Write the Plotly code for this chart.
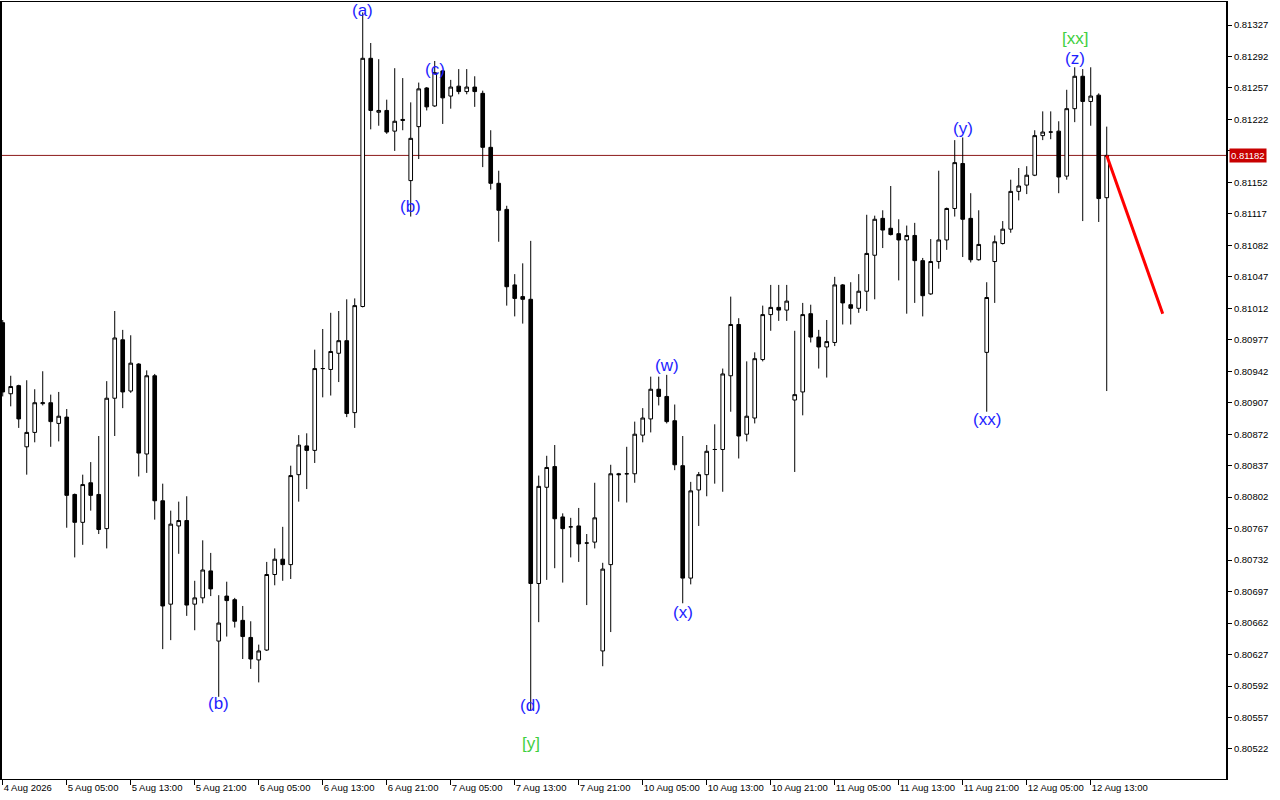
import plotly.graph_objects as go

# ---- hourly candles (bar index 0 = 4 Aug 2026 21:00) ----
open_ = [0.80996,0.80917,0.80926,0.80858,0.80874,0.80906,0.80907,0.80884,0.80891,0.80805,
         0.80774,0.80818,0.80805,0.80767,0.80912,0.80977,0.80920,0.80950,0.80850,0.80937,
         0.80798,0.80683,0.80770,0.80776,0.80683,0.80690,0.80720,0.80642,0.80692,0.80688,
         0.80665,0.80646,0.80621,0.80632,0.80716,0.80733,0.80727,0.80827,0.80859,0.80854,
         0.80945,0.80944,0.80962,0.80976,0.80896,0.81014,0.81290,0.81230,0.81232,0.81209,
         0.81222,0.81154,0.81214,0.81257,0.81237,0.81276,0.81248,0.81259,0.81253,0.81258,
         0.81251,0.81191,0.81151,0.81122,0.81038,0.81025,0.81022,0.80706,0.80813,0.80836,
         0.80780,0.80769,0.80770,0.80751,0.80752,0.80631,0.80727,0.80828,0.80828,0.80828,
         0.80871,0.80889,0.80922,0.80914,0.80887,0.80837,0.80712,0.80810,0.80827,0.80855,
         0.80855,0.80937,0.80994,0.80872,0.80890,0.80955,0.81005,0.81013,0.81010,0.80910,
         0.80919,0.81006,0.80980,0.80969,0.80974,0.81038,0.81016,0.81012,0.81031,0.81071,
         0.81112,0.81101,0.81095,0.81088,0.81093,0.81065,0.81028,0.81064,0.81088,0.81123,
         0.81173,0.81112,0.81066,0.80963,0.81064,0.81084,0.81100,0.81142,0.81149,0.81160,
         0.81204,0.81208,0.81209,0.81159,0.81234,0.81270,0.81242,0.81249,0.81135]
high = [0.80999,0.80937,0.80927,0.80932,0.80922,0.80942,0.80916,0.80919,0.80900,0.80806,
        0.80827,0.80841,0.80870,0.80931,0.81009,0.80988,0.80982,0.80951,0.80943,0.80939,
        0.80817,0.80787,0.80797,0.80803,0.80709,0.80754,0.80740,0.80693,0.80708,0.80690,
        0.80681,0.80664,0.80638,0.80730,0.80745,0.80769,0.80837,0.80871,0.80873,0.80966,
        0.80989,0.81007,0.81009,0.81022,0.81023,0.81341,0.81307,0.81289,0.81244,0.81279,
        0.81268,0.81241,0.81263,0.81258,0.81287,0.81277,0.81266,0.81278,0.81278,0.81270,
        0.81254,0.81210,0.81165,0.81126,0.81050,0.81062,0.81087,0.80826,0.80848,0.80860,
        0.80784,0.80779,0.80790,0.80761,0.80818,0.80729,0.80838,0.80829,0.80858,0.80886,
        0.80901,0.80936,0.80936,0.80938,0.80905,0.80870,0.80819,0.80830,0.80860,0.80883,
        0.80945,0.81025,0.81001,0.80953,0.80963,0.81015,0.81038,0.81038,0.81038,0.80987,
        0.81018,0.81016,0.80988,0.80999,0.81047,0.81039,0.81041,0.81050,0.81116,0.81115,
        0.81121,0.81148,0.81111,0.81104,0.81107,0.81068,0.81089,0.81165,0.81124,0.81199,
        0.81202,0.81140,0.81121,0.81041,0.81093,0.81109,0.81155,0.81168,0.81170,0.81210,
        0.81231,0.81231,0.81220,0.81255,0.81280,0.81278,0.81280,0.81251,0.81214]
low = [0.80914,0.80903,0.80879,0.80827,0.80863,0.80904,0.80858,0.80864,0.80768,0.80735,
       0.80749,0.80787,0.80761,0.80745,0.80870,0.80901,0.80918,0.80825,0.80829,0.80777,
       0.80633,0.80643,0.80739,0.80670,0.80654,0.80684,0.80692,0.80580,0.80647,0.80657,
       0.80622,0.80611,0.80596,0.80631,0.80704,0.80709,0.80711,0.80797,0.80811,0.80840,
       0.80913,0.80915,0.80930,0.80891,0.80879,0.81013,0.81211,0.81215,0.81206,0.81187,
       0.81210,0.81114,0.81178,0.81232,0.81236,0.81217,0.81234,0.81250,0.81250,0.81236,
       0.81169,0.81144,0.81086,0.81015,0.81003,0.80995,0.80565,0.80663,0.80710,0.80723,
       0.80707,0.80735,0.80730,0.80682,0.80745,0.80614,0.80652,0.80797,0.80796,0.80818,
       0.80863,0.80874,0.80904,0.80884,0.80832,0.80684,0.80705,0.80770,0.80803,0.80817,
       0.80808,0.80897,0.80845,0.80864,0.80884,0.80953,0.80987,0.80998,0.80998,0.80830,
       0.80893,0.80974,0.80945,0.80935,0.80970,0.80994,0.80994,0.81007,0.81009,0.81022,
       0.81079,0.81093,0.81043,0.81006,0.81018,0.81003,0.81027,0.81056,0.81077,0.81114,
       0.81069,0.81063,0.81065,0.80897,0.81018,0.81083,0.81096,0.81132,0.81139,0.81159,
       0.81199,0.81200,0.81140,0.81155,0.81219,0.81109,0.81215,0.81108,0.80920]
close = [0.80919,0.80925,0.80889,0.80874,0.80907,0.80907,0.80886,0.80892,0.80804,0.80774,
         0.80816,0.80804,0.80766,0.80912,0.80979,0.80919,0.80951,0.80851,0.80937,0.80798,
         0.80681,0.80772,0.80776,0.80682,0.80690,0.80721,0.80700,0.80662,0.80687,0.80664,
         0.80647,0.80622,0.80631,0.80716,0.80733,0.80727,0.80826,0.80860,0.80854,0.80945,
         0.80945,0.80964,0.80976,0.80895,0.81015,0.81290,0.81232,0.81232,0.81208,0.81220,
         0.81221,0.81201,0.81256,0.81236,0.81274,0.81246,0.81258,0.81253,0.81258,0.81253,
         0.81191,0.81151,0.81121,0.81036,0.81023,0.81022,0.80706,0.80814,0.80835,0.80778,
         0.80767,0.80769,0.80750,0.80751,0.80779,0.80722,0.80828,0.80827,0.80828,0.80872,
         0.80890,0.80922,0.80914,0.80886,0.80838,0.80712,0.80809,0.80827,0.80853,0.80855,
         0.80939,0.80994,0.80870,0.80892,0.80956,0.81005,0.81013,0.81010,0.81020,0.80916,
         0.81005,0.80980,0.80969,0.80975,0.81038,0.81018,0.81012,0.81031,0.81073,0.81111,
         0.81099,0.81094,0.81088,0.81093,0.81065,0.81026,0.81064,0.81088,0.81123,0.81174,
         0.81111,0.81066,0.81083,0.81024,0.81086,0.81100,0.81142,0.81148,0.81160,0.81204,
         0.81208,0.81208,0.81158,0.81234,0.81270,0.81242,0.81248,0.81134,0.81182]

# ---- time axis labels (every 8 bars) ----
time_labels = ["4 Aug 2026", "5 Aug 05:00", "5 Aug 13:00", "5 Aug 21:00", "6 Aug 05:00",
               "6 Aug 13:00", "6 Aug 21:00", "7 Aug 05:00", "7 Aug 13:00", "7 Aug 21:00",
               "10 Aug 05:00", "10 Aug 13:00", "10 Aug 21:00", "11 Aug 05:00", "11 Aug 13:00",
               "11 Aug 21:00", "12 Aug 05:00", "12 Aug 13:00"]
time_label_bars = [0, 8, 16, 24, 32, 40, 48, 56, 64, 72, 80, 88, 96, 104, 112, 120, 128, 136]

# ---- price axis ticks ----
price_ticks = [0.80522, 0.80557, 0.80592, 0.80627, 0.80662, 0.80697, 0.80732, 0.80767,
               0.80802, 0.80837, 0.80872, 0.80907, 0.80942, 0.80977, 0.81012, 0.81047,
               0.81082, 0.81117, 0.81152, 0.81187, 0.81222, 0.81257, 0.81292, 0.81327]
current_price = 0.81182

# ---- wave labels (anchored at a bar's high or low) ----
wave_text = ["(a)", "(b)", "(c)", "(b)", "(d)", "[y]", "(w)", "(x)", "(y)", "(xx)", "[xx]", "(z)"]
wave_bar = [45, 51, 54, 27, 66, 66, 83, 85, 120, 123, 134, 134]
wave_anchor = ["high", "low", "high", "low", "low", "low", "high", "low", "high", "low", "high", "high"]
wave_kind = ["minor"] * 5 + ["major"] + ["minor"] * 4 + ["major", "minor"]
wave_yshift = [2, 10, -9, -7, 5, -33, 9, -9, 9, -8, 29, 9]

# ---- projected move ----
proj_bars = [138, 145]
proj_prices = [0.81182, 0.81006]

n = len(open_)
xs = list(range(n))

fig = go.Figure()
fig.add_trace(go.Candlestick(
    x=xs, open=open_, high=high, low=low, close=close,
    increasing=dict(line=dict(color="black", width=1), fillcolor="white"),
    decreasing=dict(line=dict(color="black", width=1), fillcolor="black"),
    whiskerwidth=0, hoverinfo="skip", showlegend=False,
))
fig.add_trace(go.Scatter(
    x=proj_bars, y=proj_prices, mode="lines",
    line=dict(color="#ff0000", width=3), hoverinfo="skip", showlegend=False,
))

fig.add_shape(type="line", xref="paper", x0=0, x1=1, yref="y",
              y0=current_price, y1=current_price,
              line=dict(color="#8c1a1a", width=1), layer="below")

for t, b, a, k, s in zip(wave_text, wave_bar, wave_anchor, wave_kind, wave_yshift):
    yv = high[b] if a == "high" else low[b]
    fig.add_annotation(
        x=b, y=yv, text=t, showarrow=False, xanchor="center", yanchor="middle",
        yshift=s,
        font=dict(family="Liberation Sans, Arial", size=17,
                  color="#1e1eff" if k == "minor" else "#3fcf3f"),
    )

fig.add_annotation(
    xref="paper", x=1.0, xanchor="left", xshift=3, y=current_price, yanchor="middle",
    text="0.81182", showarrow=False, bgcolor="#c80000", borderpad=1,
    font=dict(family="Liberation Sans, Arial", size=9.5, color="white"),
)

fig.update_layout(
    width=1280, height=800,
    margin=dict(l=2, r=54, t=2, b=21, autoexpand=False),
    paper_bgcolor="white", plot_bgcolor="white",
    font=dict(family="Liberation Sans, Arial", size=9.5, color="black"),
    boxgap=0.35,
    xaxis=dict(
        range=[-0.09, 152.91], rangeslider=dict(visible=False),
        showgrid=False, zeroline=False, automargin=False,
        tickmode="array", tickvals=time_label_bars, ticktext=time_labels, tickangle=0,
        ticks="outside", ticklen=5, tickcolor="black", ticklabelposition="outside right",
        showline=True, linecolor="black", linewidth=1, mirror=True,
    ),
    yaxis=dict(
        range=[0.804886, 0.813526], side="right",
        showgrid=False, zeroline=False, automargin=False,
        tickmode="array", tickvals=price_ticks,
        ticktext=["" if abs(v - 0.81187) < 1e-7 else f"{v:.5f}" for v in price_ticks],
        ticks="outside", ticklen=4, tickcolor="black",
        showline=True, linecolor="black", linewidth=2, mirror=True,
    ),
)

fig.write_html("out.html", config={"displayModeBar": False},
               post_script="document.body.style.margin='0';")
